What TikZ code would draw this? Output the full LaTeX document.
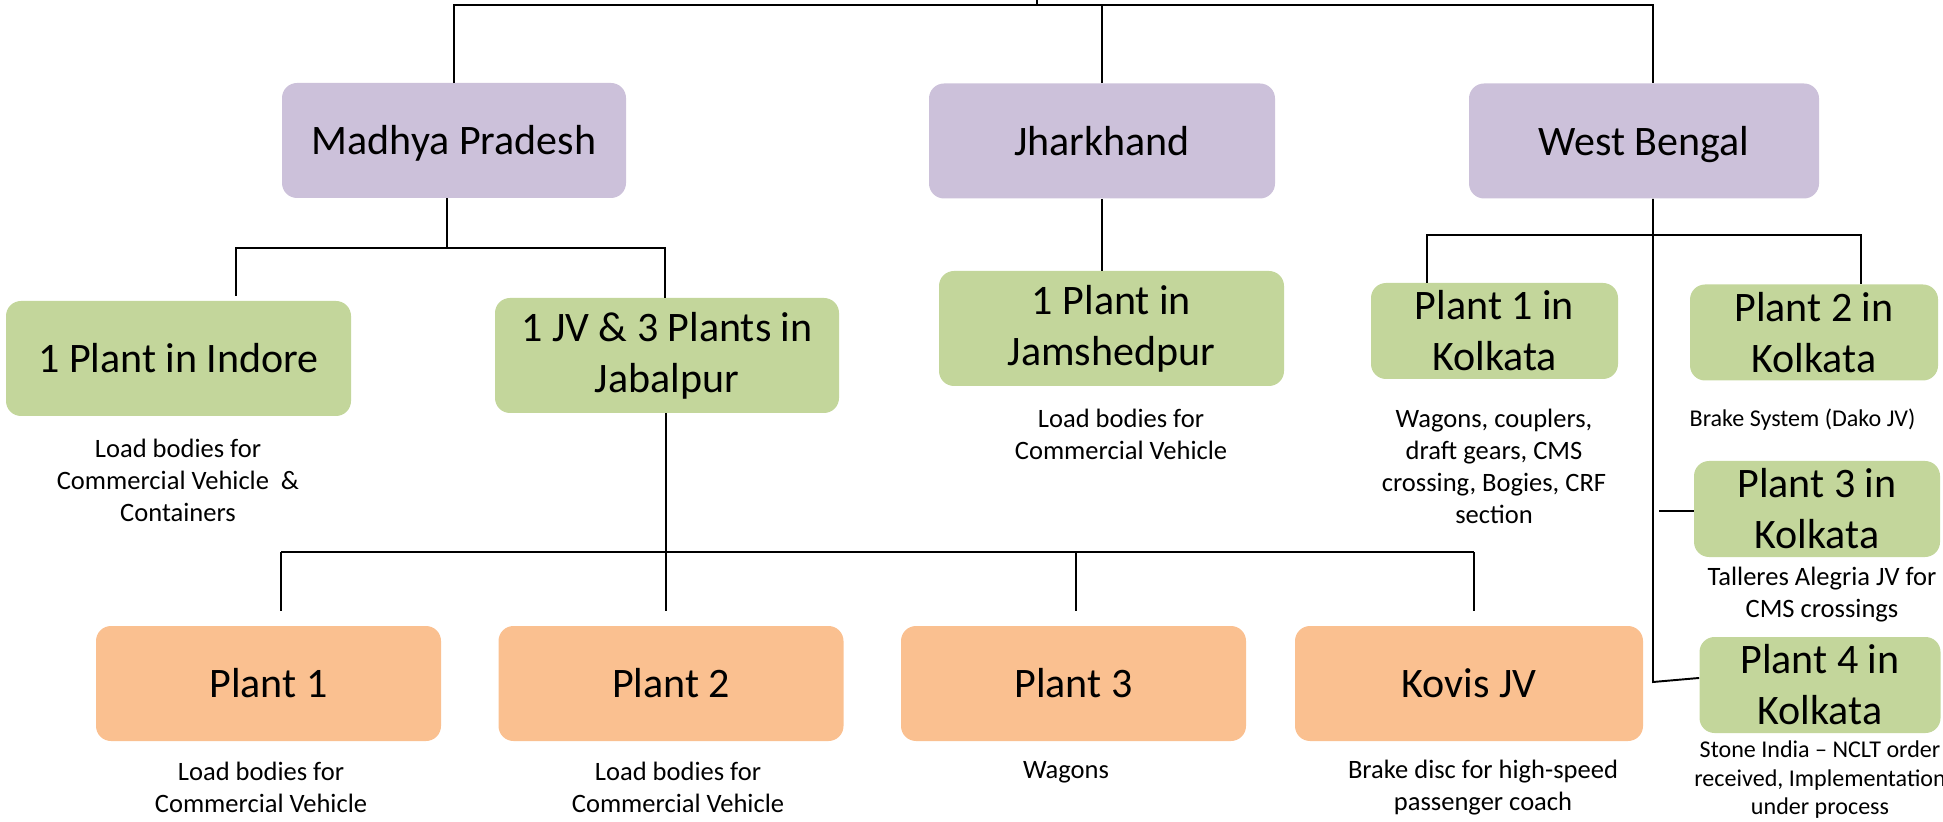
\documentclass[tikz,border=0pt]{standalone}
\usepackage{fontspec}
\setmainfont{Carlito}
\definecolor{lavender}{RGB}{204,193,218}
\definecolor{leaf}{RGB}{195,214,155}
\definecolor{peach}{RGB}{250,192,144}
\tikzset{
  box/.style={rectangle, rounded corners=0.3cm, minimum width=6.9cm, minimum height=2.3cm,
    inner sep=0pt, align=center, font=\fontsize{23.9}{29}\selectfont},
  statebox/.style={box, fill=lavender, text height=0.68cm, text depth=0.1cm},
  sitebox/.style={box, fill=leaf},
  unitbox/.style={box, fill=peach},
  kolbox/.style={sitebox, minimum width=4.94cm, minimum height=1.92cm},
  notetext/.style={inner sep=0pt, align=center, font=\fontsize{15.1}{18.2}\selectfont},
  smallnote/.style={notetext, font=\fontsize{13.7}{16.2}\selectfont},
  link/.style={line width=1.1pt},
}

\begin{document}
\begin{tikzpicture}
	\useasboundingbox (0,0) rectangle (38.86,16.42);

	\node[statebox, minimum width=6.88cm] (mp) at (9.08,13.61) {Madhya Pradesh};
	\node[statebox, minimum width=6.92cm] (jh) at (22.04,13.60) {Jharkhand};
	\node[statebox, minimum width=7.0cm] (wb) at (32.88,13.60) {West Bengal};

	\node[sitebox] (indore) at (3.57,9.25) {1 Plant in Indore};
	\node[sitebox, minimum width=6.88cm] (jab) at (13.34,9.31) {1 JV \& 3 Plants in\\Jabalpur};
	\node[sitebox] (jam) at (22.23,9.85) {1 Plant in\\Jamshedpur};
	\node[kolbox] (kol1) at (29.89,9.80) {Plant 1 in\\Kolkata};
	\node[kolbox, minimum width=4.96cm] (kol2) at (36.28,9.77) {Plant 2 in\\Kolkata};
	\node[kolbox, minimum width=4.92cm] (kol3) at (36.34,6.24) {Plant 3 in\\Kolkata};
	\node[kolbox, minimum width=4.82cm] (kol4) at (36.40,2.72) {Plant 4 in\\Kolkata};

	\node[unitbox] (p1) at (5.37,2.75) {Plant 1};
	\node[unitbox] (p2) at (13.42,2.75) {Plant 2};
	\node[unitbox] (p3) at (21.47,2.75) {Plant 3};
	\node[unitbox, minimum width=6.96cm] (kovis) at (29.38,2.75) {Kovis JV};

	\node[notetext] (indoretxt) at (3.56,6.82) {Load bodies for\\Commercial Vehicle~ \&\\Containers};
	\node[notetext] (jamtxt) at (22.42,7.74) {Load bodies for\\Commercial Vehicle};
	\node[notetext] (kol1txt) at (29.88,7.10) {Wagons, couplers,\\draft gears, CMS\\crossing, Bogies, CRF\\section};
	\node[smallnote] (kol2txt) at (36.05,8.02) {Brake System (Dako JV)};
	\node[notetext] (kol3txt) at (36.44,4.52) {Talleres Alegria JV for\\CMS crossings};
	\node[smallnote] (kol4txt) at (36.40,0.82) {Stone India -- NCLT order\\received, Implementation\\under process};
	\node[notetext] (p1txt) at (5.22,0.67) {Load bodies for\\Commercial Vehicle};
	\node[notetext] (p2txt) at (13.56,0.67) {Load bodies for\\Commercial Vehicle};
	\node[notetext] (p3txt) at (21.32,0.98) {Wagons};
	\node[notetext] (kovistxt) at (29.66,0.67) {Brake disc for high-speed\\passenger coach};

	\coordinate (root) at (20.74,16.42);
	\coordinate (topbus) at (20.74,16.32);
	\coordinate (wbx) at (33.06,16.32);
	\draw[link] (root) -- (topbus);
	\draw[link] (mp.north) -- (mp.north |- topbus) -- (wbx) -- (wbx |- wb.north);
	\draw[link] (jh.north) -- (jh.north |- topbus);

	\coordinate (mpbus) at (8.94,11.46);
	\coordinate (mpl) at (4.72,11.46);
	\coordinate (mpr) at (13.30,11.46);
	\draw[link] (mpbus |- mp.south) -- (mpbus);
	\draw[link, shorten <=0.1cm] (mpl |- indore.north) -- (mpl) -- (mpr) -- (mpr |- jab.north);

	\draw[link] (jh.south) -- (jh.south |- jam.north);

	\coordinate (jb1) at (5.62,5.38);
	\coordinate (jb2) at (13.32,5.38);
	\coordinate (jb3) at (21.52,5.38);
	\coordinate (jb4) at (29.48,5.38);
	\draw[link] (jb2 |- jab.south) -- (jb2);
	\draw[link] (jb1) -- (jb4);
	\foreach \c/\n in {jb1/p1, jb2/p2, jb3/p3, jb4/kovis}
		\draw[link, shorten >=0.3cm] (\c) -- (\c |- \n.north);

	\coordinate (wb1) at (28.54,11.72);
	\coordinate (wb2) at (37.22,11.72);
	\coordinate (wbend) at (33.06,2.78);
	\coordinate (wb3) at (33.18,6.20);
	\draw[link] (wb1 |- kol1.north) -- (wb1) -- (wb2) -- (wb2 |- kol2.north);
	\draw[link] (wbx |- wb.south) -- (wbend) -- ([yshift=4pt]kol4.west);
	\draw[link] (wb3) -- (wb3 -| kol3.west);
\end{tikzpicture}
\end{document}
